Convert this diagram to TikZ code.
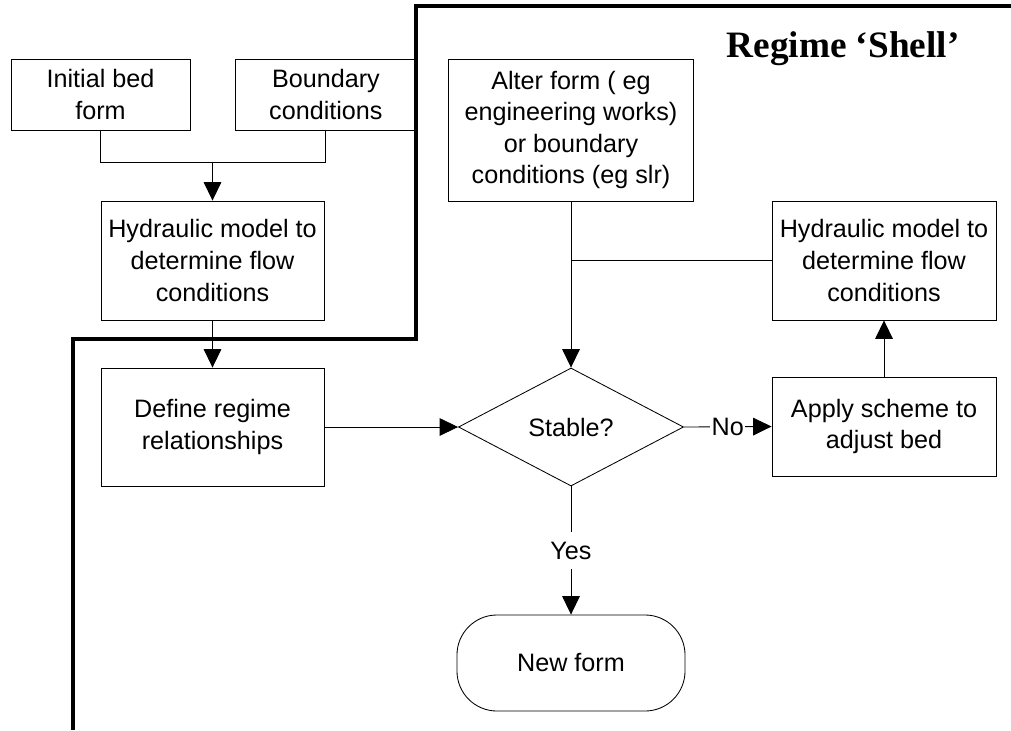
\documentclass[tikz,border=0pt]{standalone}
\usepackage{fontspec}
\setmainfont{Liberation Sans}
\newfontfamily\titlefont{Liberation Serif}
\usetikzlibrary{arrows.meta, positioning, shapes.geometric}

\tikzset{
  procbox/.style={draw, line width=0.6pt, align=center, inner sep=0pt},
  link/.style={line width=0.6pt},
  arrowlink/.style={link, -{Triangle[length=4.6mm, width=4.4mm]}},
  shell/.style={line width=3.4pt},
}

\begin{document}
\begin{tikzpicture}[x=0.025cm, y=-0.025cm, font=\fontsize{17.9pt}{22.5pt}\selectfont]
    \useasboundingbox (0,0) rectangle (1011,730);

    % Title
    \node[font=\titlefont\bfseries\fontsize{26.5pt}{30pt}\selectfont, anchor=base] (title) at (843,57) {Regime ‘Shell’};

    % Boxes
    \node[procbox, minimum width=4.475cm, minimum height=1.775cm] (init) at (100.5,94.5) {Initial bed\\form};
    \node[procbox, minimum width=4.5cm, minimum height=1.775cm, right=1.125cm of init] (bound) {Boundary\\conditions};
    \node[procbox, minimum width=5.575cm, minimum height=2.975cm] (hydleft) at (212.5,260.5) {Hydraulic model to\\determine flow\\conditions};
    \node[procbox, minimum width=5.575cm, minimum height=2.95cm] (regime) at (212.5,427) {Define regime\\relationships};
    \node[procbox, minimum width=6.14cm, minimum height=3.55cm] (alter) at (571,130) {Alter form ( eg\\engineering works)\\or boundary\\conditions (eg slr)};
    \node[procbox, diamond, aspect=1.9, minimum width=5.625cm, minimum height=2.95cm] (stable) at (571,427) {Stable?};
    \node[procbox, minimum width=5.6cm, minimum height=2.975cm] (hydright) at (884,260.5) {Hydraulic model to\\determine flow\\conditions};
    \node[procbox, minimum width=5.6cm, minimum height=2.475cm] (apply) at (884,426.5) {Apply scheme to\\adjust bed};
    \node[procbox, rounded corners=1cm, minimum width=5.7cm, minimum height=2.4cm] (newform) at (571,663) {New form};

    % Shell boundary
    \draw[shell] (73,730) |- (416,339) |- (1011,6);

    % Arrows
    \coordinate[above=0.95cm of hydleft] (merge);
    \draw[link] (init.south) |- (merge) -| (bound.south);
    \draw[arrowlink] (merge) -- (hydleft.north);
    \draw[arrowlink] (hydleft.south) -- (regime.north);
    \draw[arrowlink] (regime.east) -- (stable.west);
    \draw[arrowlink] (alter.south) -- (stable.north);
    \draw[link] (hydright.west) -- (hydright.west -| alter.south);
    \draw[arrowlink] (stable.east) -- node[fill=white, inner sep=1pt] {No} (apply.west);
    \draw[arrowlink] (apply.north) -- (hydright.south);
    \draw[arrowlink] (stable.south) -- node[fill=white, inner xsep=1pt, inner ysep=7pt] {Yes} (newform.north);
  \end{tikzpicture}
\end{document}
